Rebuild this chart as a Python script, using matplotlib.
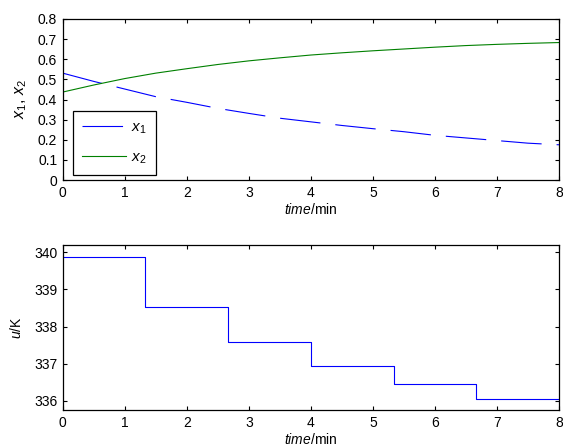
import numpy as np
import matplotlib
matplotlib.use("Agg")
from matplotlib import pyplot as plt

plt.rcParams['font.family'] = ['Liberation Sans', 'DejaVu Sans']
plt.rcParams['mathtext.fontset'] = 'custom'
plt.rcParams['mathtext.rm'] = 'Liberation Sans'
plt.rcParams['mathtext.it'] = 'Liberation Sans:italic'
plt.rcParams['font.size'] = 10
plt.rcParams['lines.scale_dashes'] = False

# states
t = [0, 0.5, 1, 1.5, 2, 2.5, 3, 3.5, 4, 4.5, 5, 5.5, 6, 6.5, 7, 7.5, 8]
x1 = [0.531, 0.490, 0.452, 0.414, 0.386, 0.356, 0.331, 0.307, 0.289,
      0.271, 0.255, 0.240, 0.222, 0.209, 0.196, 0.183, 0.175]
x2 = [0.437, 0.472, 0.504, 0.531, 0.553, 0.574, 0.592, 0.607, 0.621,
      0.632, 0.642, 0.651, 0.660, 0.668, 0.674, 0.679, 0.683]

# control input, piecewise constant
t_u = [0, 4/3, 8/3, 4, 16/3, 20/3, 8]
u = [339.88, 338.52, 337.59, 336.95, 336.45, 336.05]

fig = plt.figure(figsize=(5.63, 4.46), dpi=100)
ax1 = fig.add_axes([0.1114, 0.5964, 0.8815, 0.361])
ax2 = fig.add_axes([0.1114, 0.0807, 0.8815, 0.370])

ax1.plot(t, x1, color=(0, 0, 1), lw=0.8, dashes=(29.2, 10.8), label='$x_1$')
ax1.plot(t, x2, color=(0, 0.5, 0), lw=0.8, label='$x_2$')
ax1.set_xlim(0, 8)
ax1.set_ylim(0, 0.8)
ax1.set_yticks(np.arange(0, 0.81, 0.1))
ax1.set_yticklabels(['0', '0.1', '0.2', '0.3', '0.4', '0.5', '0.6', '0.7', '0.8'])
ax1.set_xlabel('$\\mathit{time}$/min', labelpad=2)
ax1.set_ylabel('$x_1$, $x_2$', labelpad=6, fontsize=11.5)
leg = ax1.legend(loc='lower left', bbox_to_anchor=(0.02, 0.031), borderaxespad=0,
                 fancybox=False, edgecolor='black', framealpha=1,
                 handlelength=2.9, handletextpad=0.35, labelspacing=0.95,
                 borderpad=0.6, fontsize=11)
leg.get_frame().set_linewidth(0.9)

u_plot = u + [u[-1]]
ax2.step(t_u, u_plot, where='post', color=(0, 0, 1), lw=0.8)
ax2.set_xlim(0, 8)
ax2.set_ylim(335.75, 340.2)
ax2.set_yticks([336, 337, 338, 339, 340])
ax2.set_xlabel('$\\mathit{time}$/min', labelpad=2)
ax2.set_ylabel('$u$/K', labelpad=7)

for ax in (ax1, ax2):
    ax.tick_params(direction='in', top=True, right=True, length=3, width=0.8,
                   labelsize=10, pad=4)
    for s in ax.spines.values():
        s.set_linewidth(0.9)

fig.savefig('out.png', dpi=100)
